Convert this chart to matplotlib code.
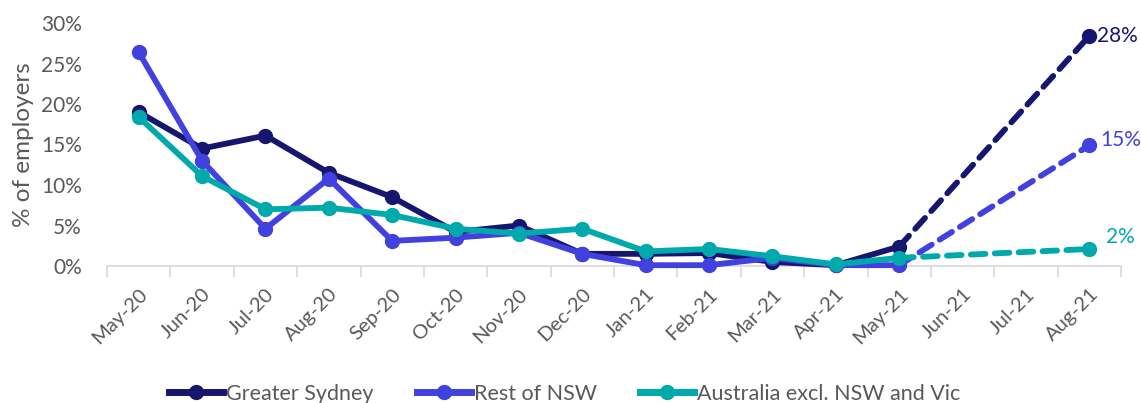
import matplotlib
matplotlib.use("Agg")
import matplotlib.pyplot as plt
from matplotlib.lines import Line2D

months = ["May-20", "Jun-20", "Jul-20", "Aug-20", "Sep-20", "Oct-20", "Nov-20", "Dec-20",
          "Jan-21", "Feb-21", "Mar-21", "Apr-21", "May-21", "Jun-21", "Jul-21", "Aug-21"]
# actual series May-20 .. May-21 (13 points), projection to Aug-21
greater_sydney = [19.0, 14.5, 16.1, 11.5, 8.5, 4.2, 5.0, 1.5, 1.5, 1.6, 0.5, 0.1, 2.4]
rest_nsw = [26.4, 13.0, 4.6, 10.8, 3.1, 3.5, 4.1, 1.5, 0.1, 0.1, 1.0, 0.1, 0.1]
aus_excl = [18.4, 11.1, 7.0, 7.2, 6.3, 4.6, 4.0, 4.6, 1.8, 2.1, 1.2, 0.2, 1.0]
aug21 = [28.4, 14.9, 2.1]
aug21_labels = ["28%", "15%", "2%"]
names = ["Greater Sydney", "Rest of NSW", "Australia excl. NSW and Vic"]
colors = ["#17166e", "#4141df", "#00a9ab"]

W, H = 1141, 403
fig = plt.figure(figsize=(W / 100, H / 100), dpi=100)
ax = fig.add_axes([107 / W, 1 - 266 / H, (1121 - 107) / W, (266 - 23) / H])

font = "Lato"
grey = "#595959"
x = list(range(len(months)))
series = [greater_sydney, rest_nsw, aus_excl]
handles = []
for s, a, c, lab, nm in zip(series, aug21, colors, aug21_labels, names):
    n = len(s)
    ax.plot(x[:n], s, color=c, lw=4.2, marker="o", ms=10, zorder=3, clip_on=False,
            solid_capstyle="round")
    ax.plot([x[n - 1], x[-1]], [s[-1], a], color=c, lw=4.2, ls=(0, (2.5, 1.6)), zorder=2,
            dash_capstyle="round", clip_on=False)
    ax.plot([x[-1]], [a], color=c, marker="o", ms=10, zorder=3, clip_on=False)
    handles.append(Line2D([], [], color=c, lw=5, marker="o", ms=10, label=nm))

ax.text(x[-1] + 0.12, aug21[0], aug21_labels[0], color=colors[0], fontsize=15,
        family=font, va="center", ha="left")
ax.text(x[-1] + 0.17, aug21[1] + 0.6, aug21_labels[1], color=colors[1], fontsize=15,
        family=font, va="center", ha="left")
ax.text(x[-1] + 0.27, aug21[2] + 1.5, aug21_labels[2], color=colors[2], fontsize=15,
        family=font, va="center", ha="left")

ax.set_xlim(-0.5, len(months) - 0.5)
ax.set_ylim(0, 30)
ax.set_yticks([0, 5, 10, 15, 20, 25, 30])
ax.set_yticklabels([f"{v}%" for v in [0, 5, 10, 15, 20, 25, 30]], family=font,
                   fontsize=15, color=grey)
ax.set_xticks(x)
ax.set_xticklabels(months, rotation=45, ha="right", rotation_mode="anchor",
                   family=font, fontsize=14.5, color=grey)
ax.set_xticks([i - 0.5 for i in range(len(months) + 1)], minor=True)
ax.tick_params(axis="x", which="major", length=0, pad=14)
ax.tick_params(axis="x", which="minor", length=8, color="#d9d9d9", width=1.2)
ax.tick_params(axis="y", length=0, pad=18)
for sp in ["top", "right", "left"]:
    ax.spines[sp].set_visible(False)
ax.spines["bottom"].set_color("#d9d9d9")
ax.spines["bottom"].set_linewidth(1.2)
ax.set_ylabel("% of employers", family=font, fontsize=17.5, color=grey)
ax.yaxis.set_label_coords((34 - 107) / (1121 - 107), 0.5)

fig.legend(handles=handles, loc="center", bbox_to_anchor=(0.495, 1 - 394 / H), ncol=3,
           frameon=False, prop={"family": font, "size": 15.5}, labelcolor=grey,
           handlelength=2.5, handletextpad=0.15, columnspacing=2.0)

fig.savefig("out.png", dpi=100)
